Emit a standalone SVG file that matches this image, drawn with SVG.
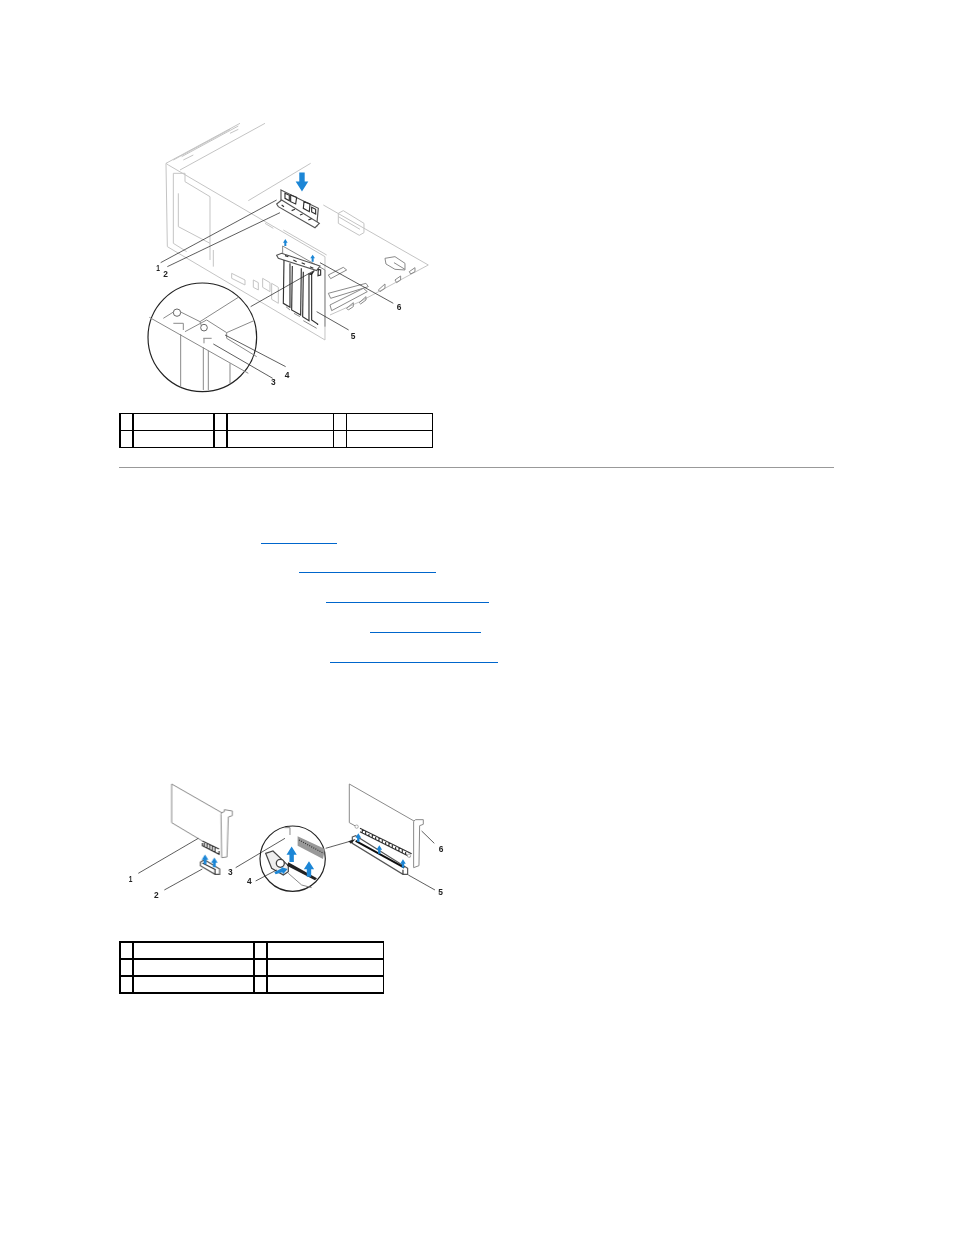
<svg xmlns="http://www.w3.org/2000/svg" width="954" height="1235" viewBox="0 0 954 1235">
<style>
.lt{fill:none;stroke:#c4c4c4;stroke-width:3}
.md{fill:none;stroke:#8a8a8a;stroke-width:3}
.dk{fill:none;stroke:#333;stroke-width:3.5}
.ld{fill:none;stroke:#222;stroke-width:2.2}
.wf{fill:#fff;stroke:#555;stroke-width:3.5}
.bk{fill:#222;stroke:none}
.ar{fill:#1b86d6;stroke:none}
.lb{font-family:"Liberation Sans",Arial,sans-serif;font-size:29px;font-weight:bold;fill:#222;text-anchor:middle}
.tb{stroke:#000;stroke-width:1;fill:none}
.tt{stroke:#000;stroke-width:2;fill:none}
.ul{stroke:#06c;stroke-width:1;fill:none}
</style>
<defs>
<path id="up" class="ar" d="M-6 30V10H-14L0-12 14 10H6V30Z"/>
<filter id="soft" x="-5%" y="-5%" width="110%" height="110%"><feGaussianBlur stdDeviation="1"/></filter>
</defs>
<rect width="954" height="1235" fill="#fff"/>

<g id="figure-1" transform="translate(130 110) scale(.3333)" filter="url(#soft)">
<g id="chassis">
<path class="lt" d="M108 160L330 40M150 180L405 40M130 150L300 58M155 140L325 48M160 150L190 135M300 70L325 58"/>
<path class="lt" d="M108 160L112 410 585 690V440L115 165 108 160M130 190V400M130 190L165 190 165 215 240 260V450M130 400L170 425M145 350L240 400M145 250V350"/>
<path class="lt" d="M355 272L542 160M250 420V470M305 490L345 510V525L305 505ZM370 510L385 518V540L370 532ZM398 505L420 518V545L398 532ZM425 520L445 532V580L425 568ZM405 340L430 355M460 360L590 435"/>
</g>
<g id="board">
<path class="lt" d="M580 285L895 465 690 575 600 615M625 310L640 302 702 340V368L688 376 625 340ZM625 320L690 358"/>
<path class="md" d="M595 495L640 472 650 480 602 506ZM595 550L708 520 715 530 602 565ZM600 585L700 535 712 545 605 602ZM765 445L795 440 825 460V480L795 478 768 462ZM792 458L825 478M745 540L765 522V535L750 545ZM795 510L812 498V510L800 518ZM838 485L855 473V485L842 492ZM650 595L670 578V590L655 600ZM688 578L708 560V570L692 582Z"/>
</g>
<g id="bracket-removed">
<path class="wf" d="M453 240L565 295 560 348 453 285Z"/>
<path class="wf" d="M440 282L455 270 568 340 555 353 445 290Z"/>
<path class="dk" d="M465 250L478 256V272L465 265ZM482 255L500 262 497 282 482 275ZM522 275L540 282 538 305 520 295ZM545 292L557 298V312L545 306ZM455 285L462 290M485 302L495 298M510 315L518 312M535 330L545 326"/>
<use href="#up" transform="translate(516 228) rotate(180) scale(1.35)"/>
</g>
<g id="brackets-installed">
<path class="md" d="M458 408L585 480V650M458 408V440"/>
<path class="wf" d="M440 436L455 430 570 468 560 482 445 445Z"/>
<path class="dk" d="M462 450L460 580 480 592V460M487 468L485 600 512 615 514 475M520 485L518 620 537 632V490M545 490V630L563 642V645M565 478L572 480V495L564 497Z"/>
<path class="dk" d="M465 437L475 440M490 450L500 455M515 458L525 463M540 470L550 475"/>
<path class="md" d="M468 590L480 600M492 610L510 620M520 632L560 655"/>
<use href="#up" transform="translate(466 393) scale(.5)"/>
<use href="#up" transform="translate(548 440) scale(.5)"/>
</g>
<g id="magnifier">
<circle cx="217" cy="682" r="163" fill="#fff" stroke="#222" stroke-width="3.5"/>
<path class="md" d="M210 635L325 562M290 668L372 632M58 622L355 790M100 625L140 600 210 635 215 650M165 665L230 630 290 668V685L380 740M130 640H160V660M220 685H245M222 685V700"/>
<path class="md" d="M152 672V832M220 712V840M235 722V840M300 760V820"/>
<circle cx="141" cy="608" r="11" fill="#fff" stroke="#666" stroke-width="3"/>
<circle cx="222" cy="653" r="10" fill="#fff" stroke="#666" stroke-width="3"/>
</g>
<g id="leaders-1">
<path class="ld" d="M92 458L440 270M112 470L450 308M362 590L552 482M467 770L285 675M428 805L250 702M790 580L570 458M656 660L560 605"/>
<path class="bk" d="M536 493L556 480 545 496Z"/>
</g>
<g id="callouts-1">
<text class="lb" x="84" y="482" textLength="11" lengthAdjust="spacingAndGlyphs">1</text><text class="lb" x="107" y="500" textLength="14" lengthAdjust="spacingAndGlyphs">2</text><text class="lb" x="430" y="826" textLength="14" lengthAdjust="spacingAndGlyphs">3</text><text class="lb" x="471" y="804" textLength="14" lengthAdjust="spacingAndGlyphs">4</text><text class="lb" x="669" y="686" textLength="14" lengthAdjust="spacingAndGlyphs">5</text><text class="lb" x="807" y="601" textLength="14" lengthAdjust="spacingAndGlyphs">6</text>
</g>
</g>

<g id="table-1">
<rect class="tb" x="119.500" y="413.500" width="313" height="34"/>
<path class="tb" d="M119.500 430.500H432.500M333.500 413V447M346.500 413V447"/>
<path class="tt" d="M120 413V448M133 413V448M214 413V448M227 413V448"/>
</g>
<line id="rule" x1="119" y1="467.500" x2="834" y2="467.500" stroke="#999"/>
<g id="link-underlines">
<path class="ul" d="M261 543.500H337M299 572.500H436M326 602.500H489M370 632.500H481M330 662.500H498"/>
</g>

<g id="figure-2" transform="translate(115 775) scale(.3333)" filter="url(#soft)">
<g id="card-left">
<path class="md" d="M170 27L320 113M170 27V143L262 198"/>
<path class="md" d="M320 113L328 110V104L352 108V122L340 126L336 246L320 248L318 118Z"/>
<path class="dk" d="M262 198L312 222M262 204V212L312 238V228M268 200V214M276 204V218M284 208V222M292 212V226M300 216V230"/>
<path class="wf" d="M256 262L268 254 314 282V298H300L256 272Z"/>
<path class="dk" d="M300 284V298M262 264L302 284"/>
<use href="#up" transform="translate(270 247) scale(.7)"/>
<use href="#up" transform="translate(298 256) scale(.7)"/>
</g>
<g id="magnifier-2">
<circle cx="533" cy="251" r="98" fill="#fff" stroke="#222" stroke-width="3.500"/>
<path class="md" d="M508 158H525V180M520 295L560 330 590 338"/>
<path d="M548 184L630 222 624 252 548 212Z" fill="#999"/>
<path class="dk" stroke-dasharray="3 4" d="M552 195L626 235"/>
<path d="M452 235L474 228 520 272V290L505 300 470 280Z" fill="#eee" stroke="#444" stroke-width="3.500"/>
<circle cx="496" cy="265" r="12" fill="#fff" stroke="#444" stroke-width="4"/>
<path d="M520 262L606 310 600 316 516 272Z" fill="#222"/>
<use href="#up" transform="translate(530 228) scale(1.1)"/>
<use href="#up" transform="translate(582 272) scale(1.1)"/>
<path class="ar" d="M478 292L500 280 498 276 518 282 504 298 502 292 482 298Z"/>
</g>
<g id="card-right">
<path class="md" d="M703 27L897 138M703 27V143L725 155"/>
<path class="md" d="M897 138L902 134H925V148L914 152 912 272 896 278V140Z"/>
<path class="dk" d="M735 160L890 236M735 170L886 246M742 163V174M752 168V178M762 172V183M772 178V188M782 182V193M792 187V198M802 192V203M812 197V208M822 202V213M832 207V218M842 212V223M852 217V228M862 222V233M872 227V238"/>
<circle cx="725" cy="155" r="5" fill="#fff" stroke="#888" stroke-width="2"/>
<circle cx="882" cy="242" r="5" fill="#fff" stroke="#888" stroke-width="2"/>
<path class="wf" d="M712 186L722 182 878 280V298H864L712 205Z"/>
<path d="M722 198L868 278" stroke="#111" stroke-width="6" fill="none"/>
<path class="dk" d="M864 284V298"/>
<use href="#up" transform="translate(730 182) scale(.6)"/>
<use href="#up" transform="translate(793 218) scale(.6)"/>
<use href="#up" transform="translate(864 260) scale(.6)"/>
</g>
<g id="leaders-2">
<path class="ld" d="M70 295L250 190M148 345L262 282M362 278L510 190M422 318L485 285M632 220L712 197M920 168L958 205M880 300L960 345"/>
<path class="bk" d="M700 199L722 192 708 206Z"/>
</g>
<g id="callouts-2">
<text class="lb" x="47" y="322" textLength="11" lengthAdjust="spacingAndGlyphs">1</text><text class="lb" x="124" y="370" textLength="14" lengthAdjust="spacingAndGlyphs">2</text><text class="lb" x="346" y="299" textLength="14" lengthAdjust="spacingAndGlyphs">3</text><text class="lb" x="403" y="326" textLength="14" lengthAdjust="spacingAndGlyphs">4</text><text class="lb" x="977" y="361" textLength="14" lengthAdjust="spacingAndGlyphs">5</text><text class="lb" x="978" y="231" textLength="14" lengthAdjust="spacingAndGlyphs">6</text>
</g>
</g>

<g id="table-2">
<rect class="tb" x="119.500" y="942.500" width="264" height="51"/>
<path class="tt" d="M119 942H384M119 959H384M119 976H384M119 993H384M120 942V993M133 942V993M254 942V993M267 942V993"/>
</g>
</svg>
